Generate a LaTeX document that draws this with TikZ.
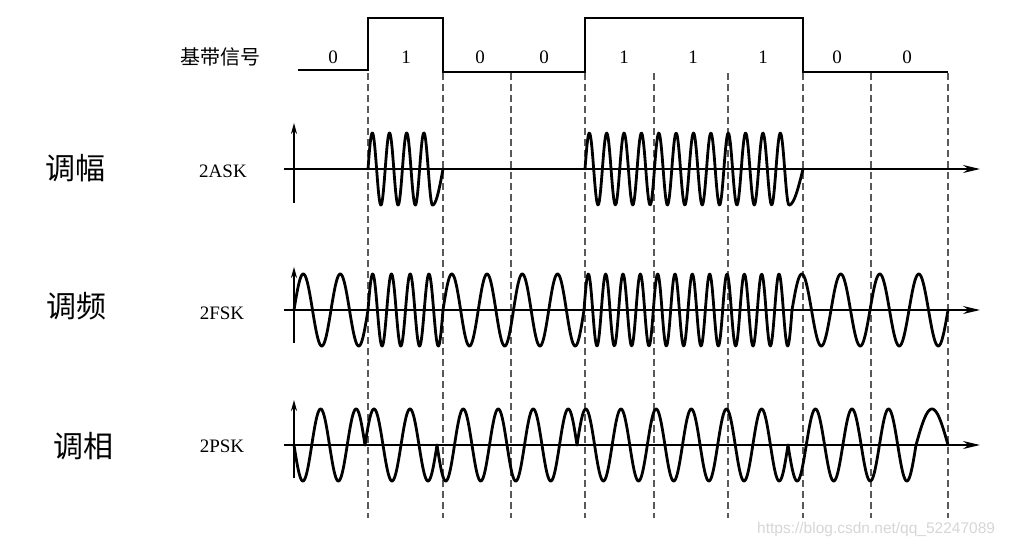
\documentclass[tikz,border=0pt]{standalone}
\usepackage{fontspec}
\setmainfont{Liberation Serif}
\newfontfamily\cjk{Noto Sans CJK SC}
\newfontfamily\wmfont{Liberation Sans}
\usetikzlibrary{arrows.meta}
% sine segment: x0, x1, axis y, start phase, end phase (degrees)
\newcommand\wseg[5]{\draw[wave] plot[domain=#1:#2, samples=300, variable=\t] (\t, {#3 - 36*sin(#4 + ((#5-#4)/(#2-#1))*(\t-#1))});}
\begin{document}
\begin{tikzpicture}[x=1pt,y=-1pt,
  wave/.style={line width=2.8pt, line join=round, line cap=round},
  axisline/.style={line width=1.7pt, -{Stealth[length=17pt,width=8pt]}},
  vaxis/.style={line width=1.7pt, -{Stealth[length=11pt,width=6pt]}},
  bitline/.style={line width=1.8pt, black!65, dash pattern=on 7pt off 4pt},
  base/.style={line width=2.6pt, line join=miter},
  bit/.style={font=\fontsize{19}{19}\selectfont, inner sep=0pt},
  modlabel/.style={font=\fontsize{19}{19}\selectfont, inner sep=0pt},
  cnlabel/.style={font=\cjk\fontsize{30}{30}\selectfont, inner sep=0pt},
]
\useasboundingbox (0,0) rectangle (1011,547);

% bit boundaries (dashed)
\foreach \x in {368,443,511,585,654,728,803,871,948}
  \draw[bitline] (\x,73) -- (\x,518);

% baseband signal
\draw[base] (298,70) -- (368,70) -- (368,18) -- (443,18) -- (443,72) -- (585,72)
  -- (585,18) -- (803,18) -- (803,72) -- (948,72);
\node[font=\cjk\fontsize{20}{20}\selectfont, inner sep=0pt] (bb) at (220,57) {基带信号};
\node[bit] (b1) at (333,57) {0};
\node[bit] (b2) at (406,57) {1};
\node[bit] (b3) at (480,57) {0};
\node[bit] (b4) at (544,57) {0};
\node[bit] (b5) at (624,57) {1};
\node[bit] (b6) at (693,57) {1};
\node[bit] (b7) at (763,57) {1};
\node[bit] (b8) at (837,57) {0};
\node[bit] (b9) at (907,57) {0};

% labels
\node[cnlabel] (am) at (75,168) {调幅};
\node[cnlabel] (fm) at (76,306) {调频};
\node[cnlabel] (pm) at (83,446) {调相};
\node[modlabel] (ask) at (223,171) {2ASK};
\node[modlabel] (fsk) at (222,313) {2FSK};
\node[modlabel] (psk) at (222,446) {2PSK};

% axes
\draw[axisline] (284,169) -- (980,169);
\draw[vaxis] (294,203) -- (294,123);
\draw[axisline] (284,310) -- (980,310);
\draw[vaxis] (294,343) -- (294,267);
\draw[axisline] (284,445) -- (980,445);
\draw[vaxis] (294,478) -- (294,400);

% 2ASK
\wseg{368}{432.5}{169}{0}{1350}
\wseg{432.5}{443}{169}{270}{360}
\wseg{585}{789}{169}{0}{4230}
\wseg{789}{803}{169}{270}{360}

% 2FSK
\wseg{294}{368}{310}{0}{720}
\wseg{368}{443}{310}{0}{1440}
\wseg{443}{584}{310}{0}{1440}
\wseg{584}{792}{310}{0}{4320}
\wseg{792}{948}{310}{0}{1440}

% 2PSK
\wseg{294}{365}{445}{180}{900}
\wseg{365}{437}{445}{0}{720}
\wseg{437}{577}{445}{180}{1620}
\wseg{577}{788}{445}{0}{2160}
\wseg{788}{916}{445}{180}{1440}
\wseg{916}{948}{445}{0}{180}

% watermark
\node[font=\wmfont\fontsize{15.5}{15.5}\selectfont, text=black!16, anchor=west, inner sep=0pt] (wm) at (757,529) {https://blog.csdn.net/qq\_52247089};
\end{tikzpicture}
\end{document}
